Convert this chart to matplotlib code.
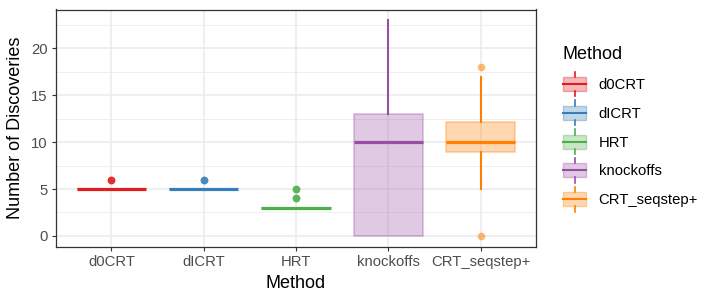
import matplotlib
matplotlib.use("Agg")
import matplotlib.pyplot as plt
from matplotlib.legend_handler import HandlerBase
from matplotlib.lines import Line2D
from matplotlib.patches import Rectangle
from matplotlib.colors import to_rgba

plt.rcParams['font.family'] = ['Liberation Sans', 'DejaVu Sans']

# ---- data ----
methods = ["d0CRT", "dICRT", "HRT", "knockoffs", "CRT_seqstep+"]
colors = ["#E41A1C", "#377EB8", "#4DAF4A", "#984EA3", "#FF7F00"]
q1 = [5, 5, 3, 0, 9]
med = [5, 5, 3, 10, 10]
q3 = [5, 5, 3, 13, 12.2]
whislo = [5, 5, 3, 0, 5]
whishi = [5, 5, 3, 23, 17]
fliers = [[6, 6, 6], [6, 6, 6], [4, 4, 4, 5, 5, 5], [], [18, 0]]
yticks = [0, 5, 10, 15, 20]

W, H = 720, 300
fig = plt.figure(figsize=(W / 100, H / 100), dpi=100)
left, right, top, bottom = 56, 536, 9.5, 246.7
ax = fig.add_axes([left / W, 1 - bottom / H, (right - left) / W, (bottom - top) / H])

positions = list(range(1, len(methods) + 1))
for i, m in enumerate(methods):
    c = colors[i]
    stats = [dict(med=med[i], q1=q1[i], q3=q3[i], whislo=whislo[i], whishi=whishi[i],
                  fliers=fliers[i], label=m)]
    ax.bxp(stats, positions=[positions[i]], widths=0.75, patch_artist=True,
           showcaps=False, manage_ticks=False,
           boxprops=dict(facecolor=to_rgba(c, 0.3), edgecolor=to_rgba(c, 0.35), linewidth=1.2),
           medianprops=dict(color=c, linewidth=2.3, solid_capstyle='butt'),
           whiskerprops=dict(color=c, linewidth=1.5),
           flierprops=dict(marker='o', markerfacecolor=c, markeredgecolor='none',
                           markersize=5.5, alpha=0.55),
           zorder=3)

ax.set_xlim(0.4, 5.6)
ax.set_ylim(-1.15, 24.15)
ax.set_xticks(positions)
ax.set_xticklabels(methods)
ax.set_yticks(yticks)
ax.set_yticks([2.5, 7.5, 12.5, 17.5, 22.5], minor=True)
ax.grid(True, which='major', color='#EBEBEB', linewidth=1.1, zorder=0)
ax.grid(True, which='minor', axis='y', color='#EBEBEB', linewidth=0.55, zorder=0)
ax.set_axisbelow(True)
ax.tick_params(axis='both', which='major', colors='#333333', labelcolor='#4D4D4D',
               labelsize=10.7, length=3, width=0.8, pad=3)
ax.tick_params(axis='both', which='minor', length=0)
for s in ax.spines.values():
    s.set_color('#333333')
    s.set_linewidth(0.9)

ax.set_xlabel("Method", fontsize=13, labelpad=4)
ax.set_ylabel("Number of Discoveries", fontsize=13, labelpad=5)


class BoxHandler(HandlerBase):
    def create_artists(self, legend, orig_handle, xdescent, ydescent, width, height,
                       fontsize, trans):
        c = orig_handle.get_color()
        x0, y0 = -xdescent, -ydescent
        rect = Rectangle((x0, y0), width, height, facecolor=to_rgba(c, 0.3),
                         edgecolor=to_rgba(c, 0.35), linewidth=1.0, transform=trans)
        mid = Line2D([x0, x0 + width], [y0 + height / 2] * 2, color=c, lw=1.5, transform=trans)
        xm = x0 + width / 2
        ext = height * 0.38
        up = Line2D([xm, xm], [y0 + height, y0 + height + ext], color=c, lw=1.2, transform=trans)
        dn = Line2D([xm, xm], [y0, y0 - ext], color=c, lw=1.2, transform=trans)
        return [rect, mid, up, dn]


handles = [Line2D([], [], color=c, label=m) for m, c in zip(methods, colors)]
leg = fig.legend(handles=handles, title="Method", loc='upper left',
                 bbox_to_anchor=(563 / W, 1 - 46 / H), frameon=False,
                 fontsize=10.7, title_fontsize=13, alignment='left',
                 handler_map={Line2D: BoxHandler()},
                 handlelength=1.55, handleheight=1.07, handletextpad=0.85,
                 labelspacing=0.93, borderpad=0, borderaxespad=0)

fig.savefig("out.png", dpi=100)
